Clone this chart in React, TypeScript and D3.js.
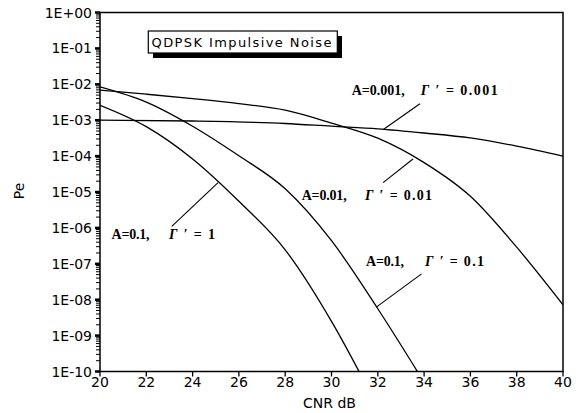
import React from 'react';
import * as d3 from 'd3';

// ---------- data ----------
const cnrTicks = [20, 22, 24, 26, 28, 30, 32, 34, 36, 38, 40];
const peTickValues = [1, 1e-1, 1e-2, 1e-3, 1e-4, 1e-5, 1e-6, 1e-7, 1e-8, 1e-9, 1e-10];
const peTickLabels = ['1E+00', '1E-01', '1E-02', '1E-03', '1E-04', '1E-05', '1E-06', '1E-07', '1E-08', '1E-09', '1E-10'];

// A=0.001, Γ'=0.001
const cnrA0001 = [20, 24, 28, 30, 32, 34, 36, 38, 40];
const peA0001 = [1.0e-3, 9.5e-4, 8.1e-4, 6.8e-4, 5.75e-4, 4.4e-4, 3.2e-4, 1.9e-4, 1.0e-4];

// A=0.01, Γ'=0.01
const cnrA001 = [20, 22, 24, 26, 28, 30, 32, 34, 36, 38, 40];
const peA001 = [6.9e-3, 5.3e-3, 4.0e-3, 2.9e-3, 1.9e-3, 8.3e-4, 3.16e-4, 6.6e-5, 7.6e-6, 2.9e-7, 7.2e-9];

// A=0.1, Γ'=0.1
const cnrA01G01 = [20, 22, 24, 26, 28, 30, 32, 34];
const peA01G01 = [8.5e-3, 3.2e-3, 6.8e-4, 1.02e-4, 1.23e-5, 4.4e-7, 5.6e-9, 5e-11];

// A=0.1, Γ'=1
const cnrA01G1 = [20, 22, 24, 26, 28, 30, 32];
const peA01G1 = [2.6e-3, 6.6e-4, 8.3e-5, 5.5e-6, 2.45e-7, 2.5e-9, 1e-11];

const seriesList = [
  { cnr: cnrA0001, pe: peA0001 },
  { cnr: cnrA001, pe: peA001 },
  { cnr: cnrA01G01, pe: peA01G01 },
  { cnr: cnrA01G1, pe: peA01G1 },
];

// annotation labels (data units: dB, log10 Pe)
const annotations = [
  { aText: 'A=0.001,', aLen: 53, ax: 30.87, gx: 33.85, y: -2.31, gVal: '0.001', gLen: 77, l1: [33.82, -2.54], l2: [32.24, -3.26] },
  { aText: 'A=0.01,', aLen: 45, ax: 28.71, gx: 31.45, y: -5.22, gVal: '0.01', gLen: 67, l1: [32.23, -4.74], l2: [33.52, -4.08] },
  { aText: 'A=0.1,', aLen: 38, ax: 31.49, gx: 34.04, y: -7.07, gVal: '0.1', gLen: 59, l1: [33.89, -7.28], l2: [31.95, -8.2] },
  { aText: 'A=0.1,', aLen: 38, ax: 20.5, gx: 22.98, y: -6.31, gVal: '1', gLen: 46, l1: [23.1, -5.96], l2: [25.1, -4.74] },
];

const W = 579;
const H = 413;
const left = 100;
const right = 563;
const top = 12.5;
const bottom = 371.5;

const SANS = '"DejaVu Sans", sans-serif';
const SERIF = '"Liberation Serif", "Times New Roman", serif';

export default function App() {
  const x = d3.scaleLinear().domain([20, 40]).range([left, right]);
  const y = d3.scaleLog().domain([1, 1e-10]).range([top, bottom]);

  const line = d3
    .line<[number, number]>()
    .x((d) => x(d[0]))
    .y((d) => y(d[1]))
    .curve(d3.curveMonotoneX);

  const minorTicks: number[] = [];
  peTickValues.slice(1).forEach((v) => {
    for (let k = 2; k <= 9; k++) minorTicks.push(v * k);
  });

  const yl = (e: number) => y(Math.pow(10, e));

  return (
    <svg
      width={W}
      height={H}
      viewBox={`0 0 ${W} ${H}`}
      style={{ position: 'absolute', left: 0, top: 0, background: '#fff' }}
    >
      <rect x={0} y={0} width={W} height={H} fill="#fff" />
      <defs>
        <clipPath id="plotClip">
          <rect x={left} y={top} width={right - left} height={bottom - top} />
        </clipPath>
      </defs>

      {/* curves */}
      <g clipPath="url(#plotClip)">
        {seriesList.map((s, i) => (
          <path
            key={i}
            d={line(s.cnr.map((c, j) => [c, s.pe[j]] as [number, number])) || ''}
            fill="none"
            stroke="#000"
            strokeWidth={1.3}
          />
        ))}
      </g>

      {/* frame */}
      <rect x={left} y={top} width={right - left} height={bottom - top} fill="none" stroke="#000" strokeWidth={1.5} />

      {/* y ticks */}
      {minorTicks.map((v, i) => (
        <line key={'m' + i} x1={left - 4} x2={left} y1={y(v)} y2={y(v)} stroke="#000" strokeWidth={1} />
      ))}
      {peTickValues.map((v, i) => (
        <g key={'y' + i}>
          <line x1={left - 5} x2={left} y1={y(v)} y2={y(v)} stroke="#000" strokeWidth={2.5} />
          <text
            x={left - 8}
            y={y(v)}
            dy="0.36em"
            textAnchor="end"
            fontFamily={SANS}
            fontSize={14}
            fill="#000"
          >
            {peTickLabels[i]}
          </text>
        </g>
      ))}

      {/* x ticks */}
      {cnrTicks.map((c) => (
        <g key={'x' + c}>
          <line x1={x(c)} x2={x(c)} y1={bottom} y2={bottom + 5} stroke="#000" strokeWidth={1.3} />
          <text x={x(c)} y={bottom + 15.5} textAnchor="middle" fontFamily={SANS} fontSize={14} fill="#000">
            {c}
          </text>
        </g>
      ))}

      {/* axis titles */}
      <text x={(left + right) / 2 - 2} y={407.5} textAnchor="middle" fontFamily={SANS} fontSize={14} fill="#000">
        CNR dB
      </text>
      <text
        transform="translate(24,191) rotate(-90)"
        textAnchor="middle"
        fontFamily={SANS}
        fontSize={14}
        fill="#000"
      >
        Pe
      </text>

      {/* title box */}
      <rect x={153} y={36} width={189} height={22} fill="#000" />
      <rect x={148.3} y={31} width={189} height={22} fill="#fff" stroke="#000" strokeWidth={1.2} />
      <text
        x={151.5}
        y={46.8}
        fontFamily={SANS}
        fontSize={13}
        textLength={180}
        lengthAdjust="spacing"
        fill="#000"
      >
        QDPSK  Impulsive Noise
      </text>

      {/* annotations */}
      {annotations.map((a, i) => (
        <g key={'a' + i}>
          <text x={x(a.ax)} y={yl(a.y)} fontFamily={SERIF} fontWeight="bold" fontSize={14} textLength={a.aLen} lengthAdjust="spacing" fill="#000">
            {a.aText}
          </text>
          <text x={x(a.gx)} y={yl(a.y)} fontFamily={SERIF} fontWeight="bold" fontSize={14} textLength={a.gLen} lengthAdjust="spacing" fill="#000">
            <tspan fontStyle="italic">Γ</tspan>
            {' \u2032 = ' + a.gVal}
          </text>
          <line
            x1={x(a.l1[0])}
            y1={yl(a.l1[1])}
            x2={x(a.l2[0])}
            y2={yl(a.l2[1])}
            stroke="#000"
            strokeWidth={1.1}
          />
        </g>
      ))}
    </svg>
  );
}
